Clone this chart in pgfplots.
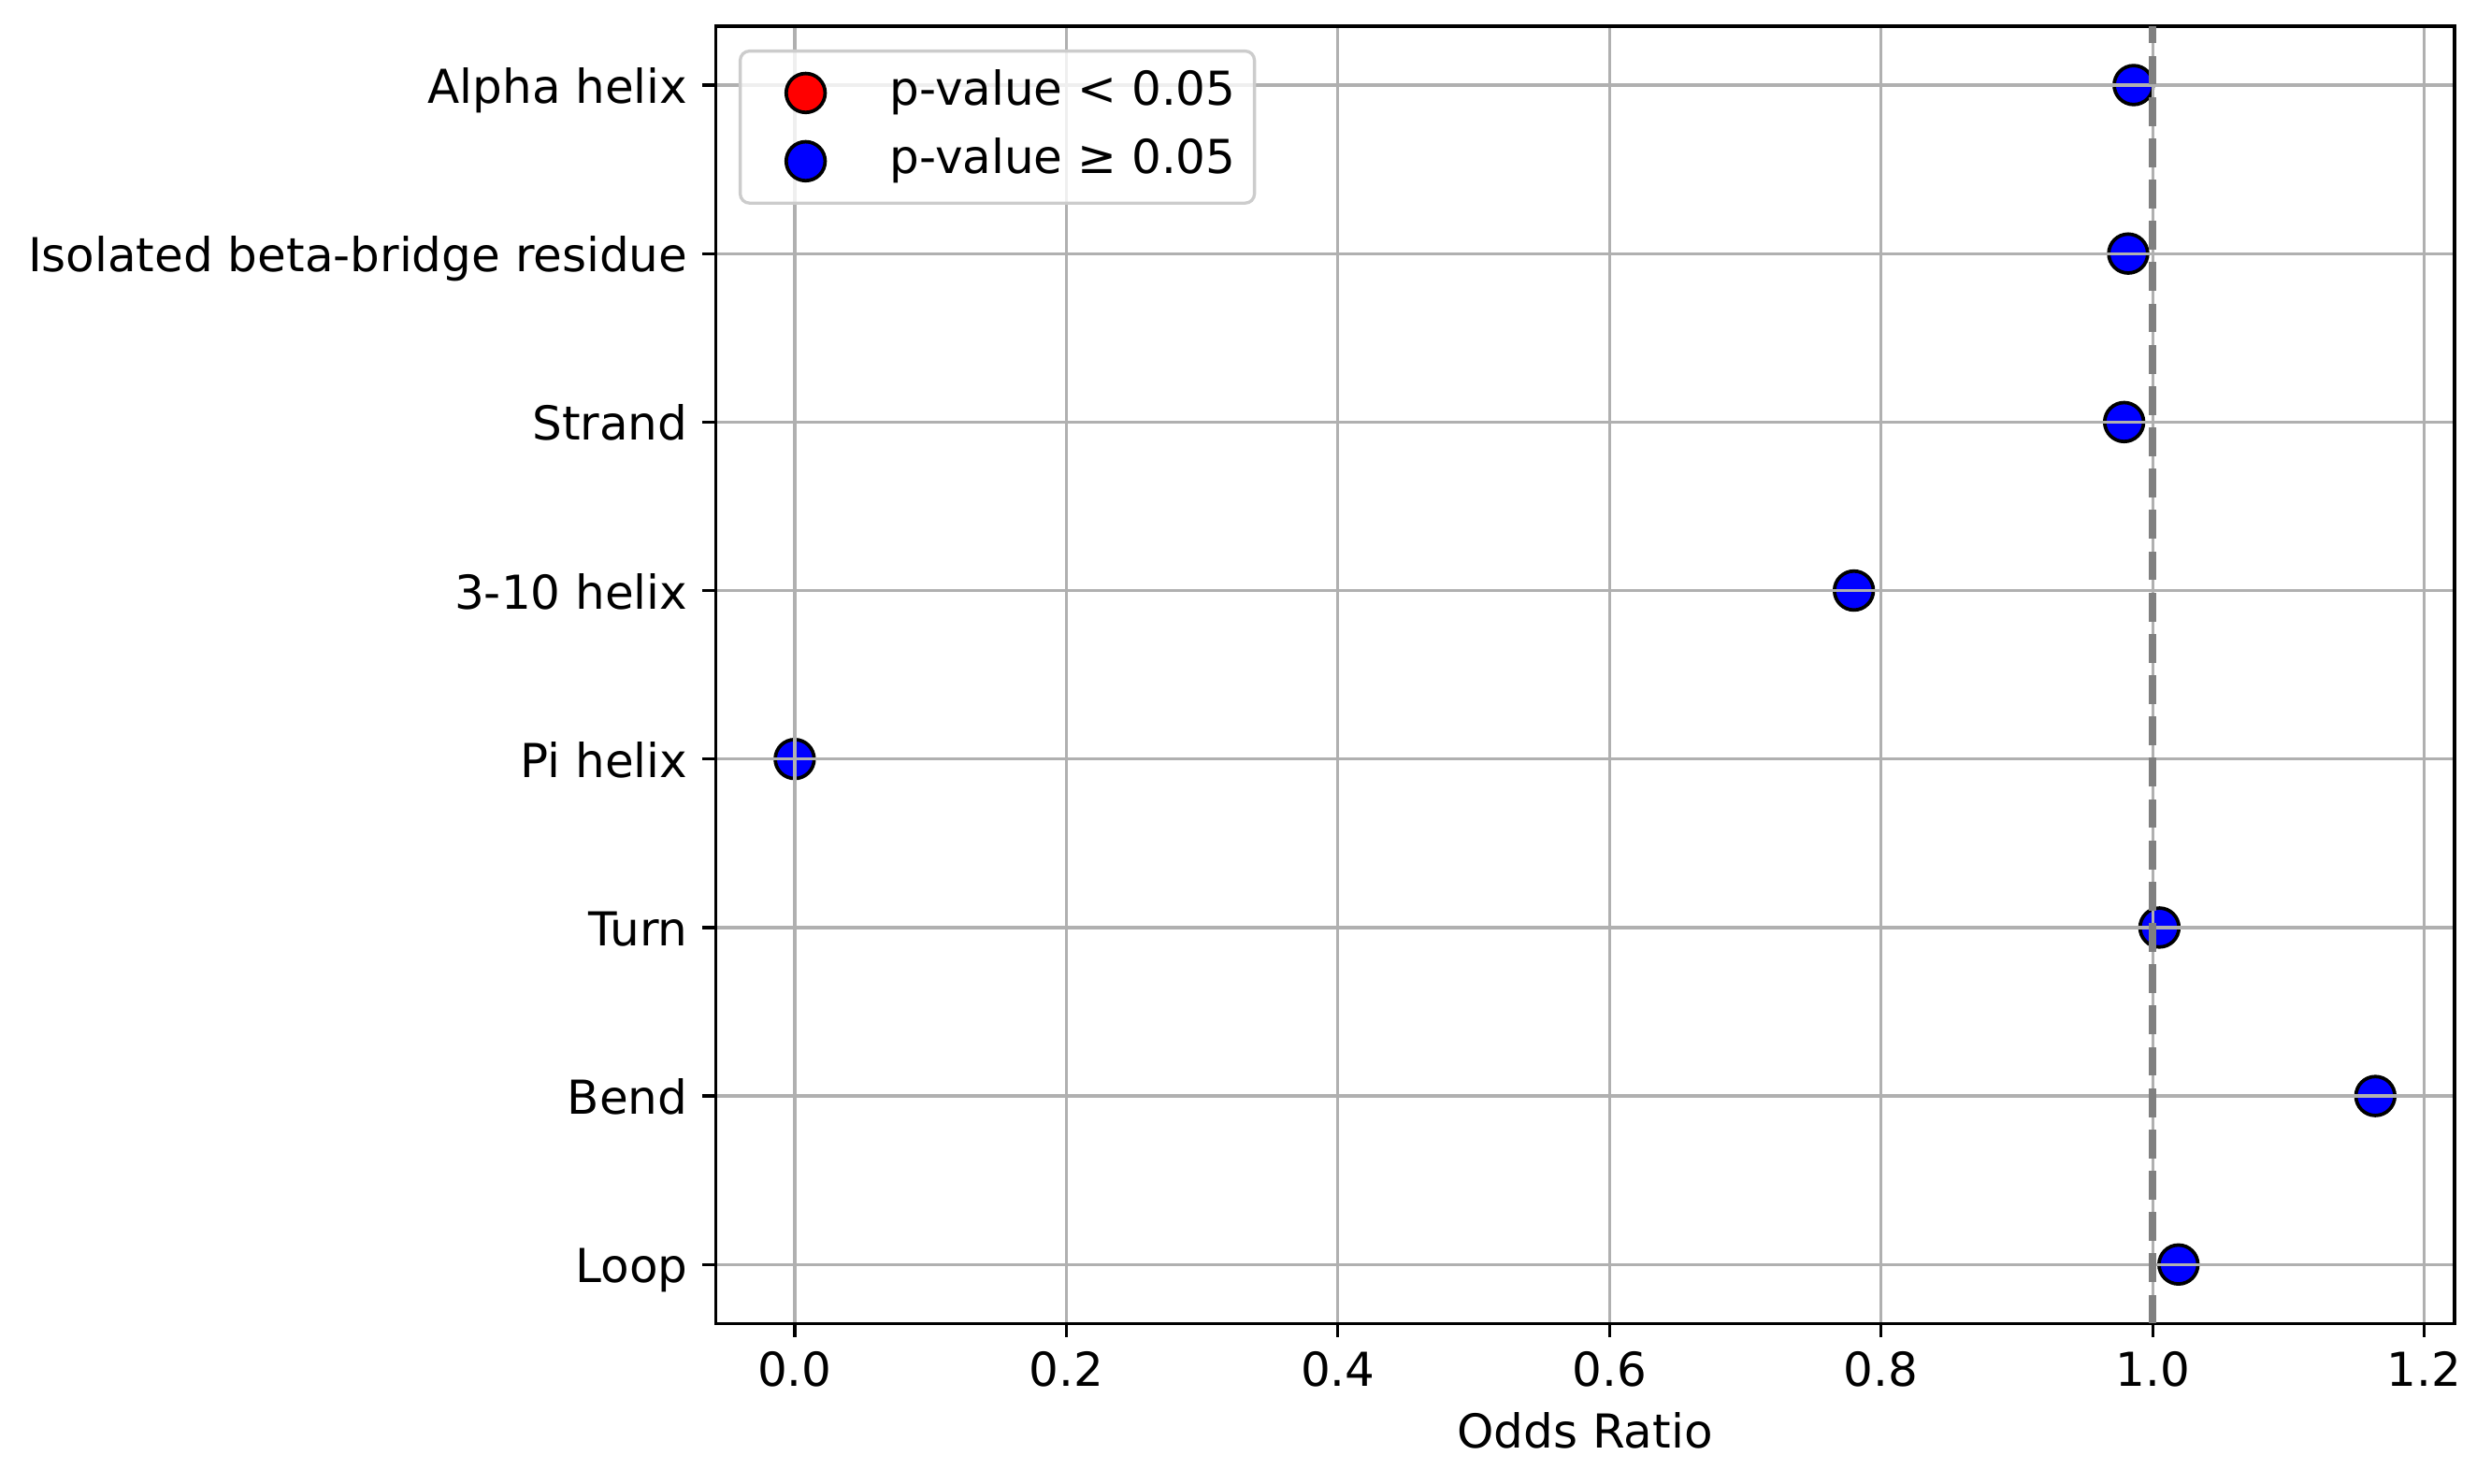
\documentclass[border=0pt]{standalone}
\usepackage{fontspec}
\setmainfont{DejaVu Sans}
\usepackage{pgfplots}
\usepackage{pgfplotstable}
\pgfplotsset{compat=1.18}
\usetikzlibrary{calc}
\definecolor{gridgray}{HTML}{B0B0B0}
\definecolor{legedge}{HTML}{CCCCCC}
\definecolor{refgray}{HTML}{808080}
\pgfplotstableread{
x y
0.986 7
0.982 6
0.979 5
0.780 4
0.000 3
1.005 2
1.164 1
1.019 0
}\oddsdata
\begin{document}
\begin{tikzpicture}
\pgfplotsset{set layers}
\begin{axis}[
  name=ax,
  scale only axis, width=446.3pt, height=333.0pt,
  xmin=-0.0582, xmax=1.2222, ymin=-0.35, ymax=7.35,
  xtick={0,0.2,0.4,0.6,0.8,1.0,1.2},
  xticklabels={0.0,0.2,0.4,0.6,0.8,1.0,1.2},
  ytick={0,1,2,3,4,5,6,7},
  yticklabels={Loop,Bend,Turn,Pi helix,3-10 helix,Strand,Isolated beta-bridge residue,Alpha helix},
  grid=major, grid style={gridgray, line width=0.8pt},
  axis line style={black, line width=0.8pt},
  tick align=outside, tick pos=left, major tick length=3.5pt,
  tick style={black, line width=0.8pt},
  font=\fontsize{12}{14.4}\selectfont,
  xticklabel style={anchor=north, inner sep=0pt, yshift=-3.5pt},
  yticklabel style={anchor=base east, inner sep=0pt, yshift=-4.7pt, xshift=-3.5pt},
  xlabel={Odds Ratio},
  xlabel style={at={(axis description cs:0.5,0)}, anchor=north, inner sep=0pt, yshift=-22.6pt},
  legend cell align=left,
  legend image code/.code={\path[draw=none, fill=none] (0pt,-5.5pt) rectangle (24pt,5.5pt); \draw[#1, fill opacity=1, draw opacity=1] plot coordinates {(12pt,0pt)};},
  legend style={at={(axis description cs:0,1)}, anchor=north west, xshift=5.9pt, yshift=-6pt,
    draw=legedge, line width=0.8pt, fill=white, fill opacity=0.8, text opacity=1, draw opacity=1,
    rounded corners=2.4pt, inner xsep=4.8pt, inner ysep=4.8pt, row sep=5.6pt,
    nodes={inner sep=0pt, text depth=2.8pt}, column sep=9.6pt,
    font=\fontsize{12}{14.4}\selectfont},
]
\addlegendimage{only marks, mark=*, mark size=5pt, mark options={fill=red, draw=black, line width=0.9pt}}
\addlegendentry{p-value < 0.05}
\addlegendimage{only marks, mark=*, mark size=5pt, mark options={fill=blue, draw=black, line width=0.9pt}}
\addlegendentry{p-value ≥ 0.05}
\addplot[on layer=axis background, mark layer=axis background, only marks, mark=*, mark size=5pt, mark options={fill=blue, draw=black, line width=0.9pt}, forget plot] table[x=x, y=y] {\oddsdata};
\addplot[refgray, line width=2pt, dash pattern=on 7.4pt off 3.2pt, forget plot] coordinates {(1,-0.35) (1,7.35)};
\end{axis}
\pgfresetboundingbox
\path[use as bounding box] ($(ax.south west)+(-183.7pt,-41.1pt)$) rectangle ($(ax.north east)+(9.4pt,6.7pt)$);
\end{tikzpicture}
\end{document}
